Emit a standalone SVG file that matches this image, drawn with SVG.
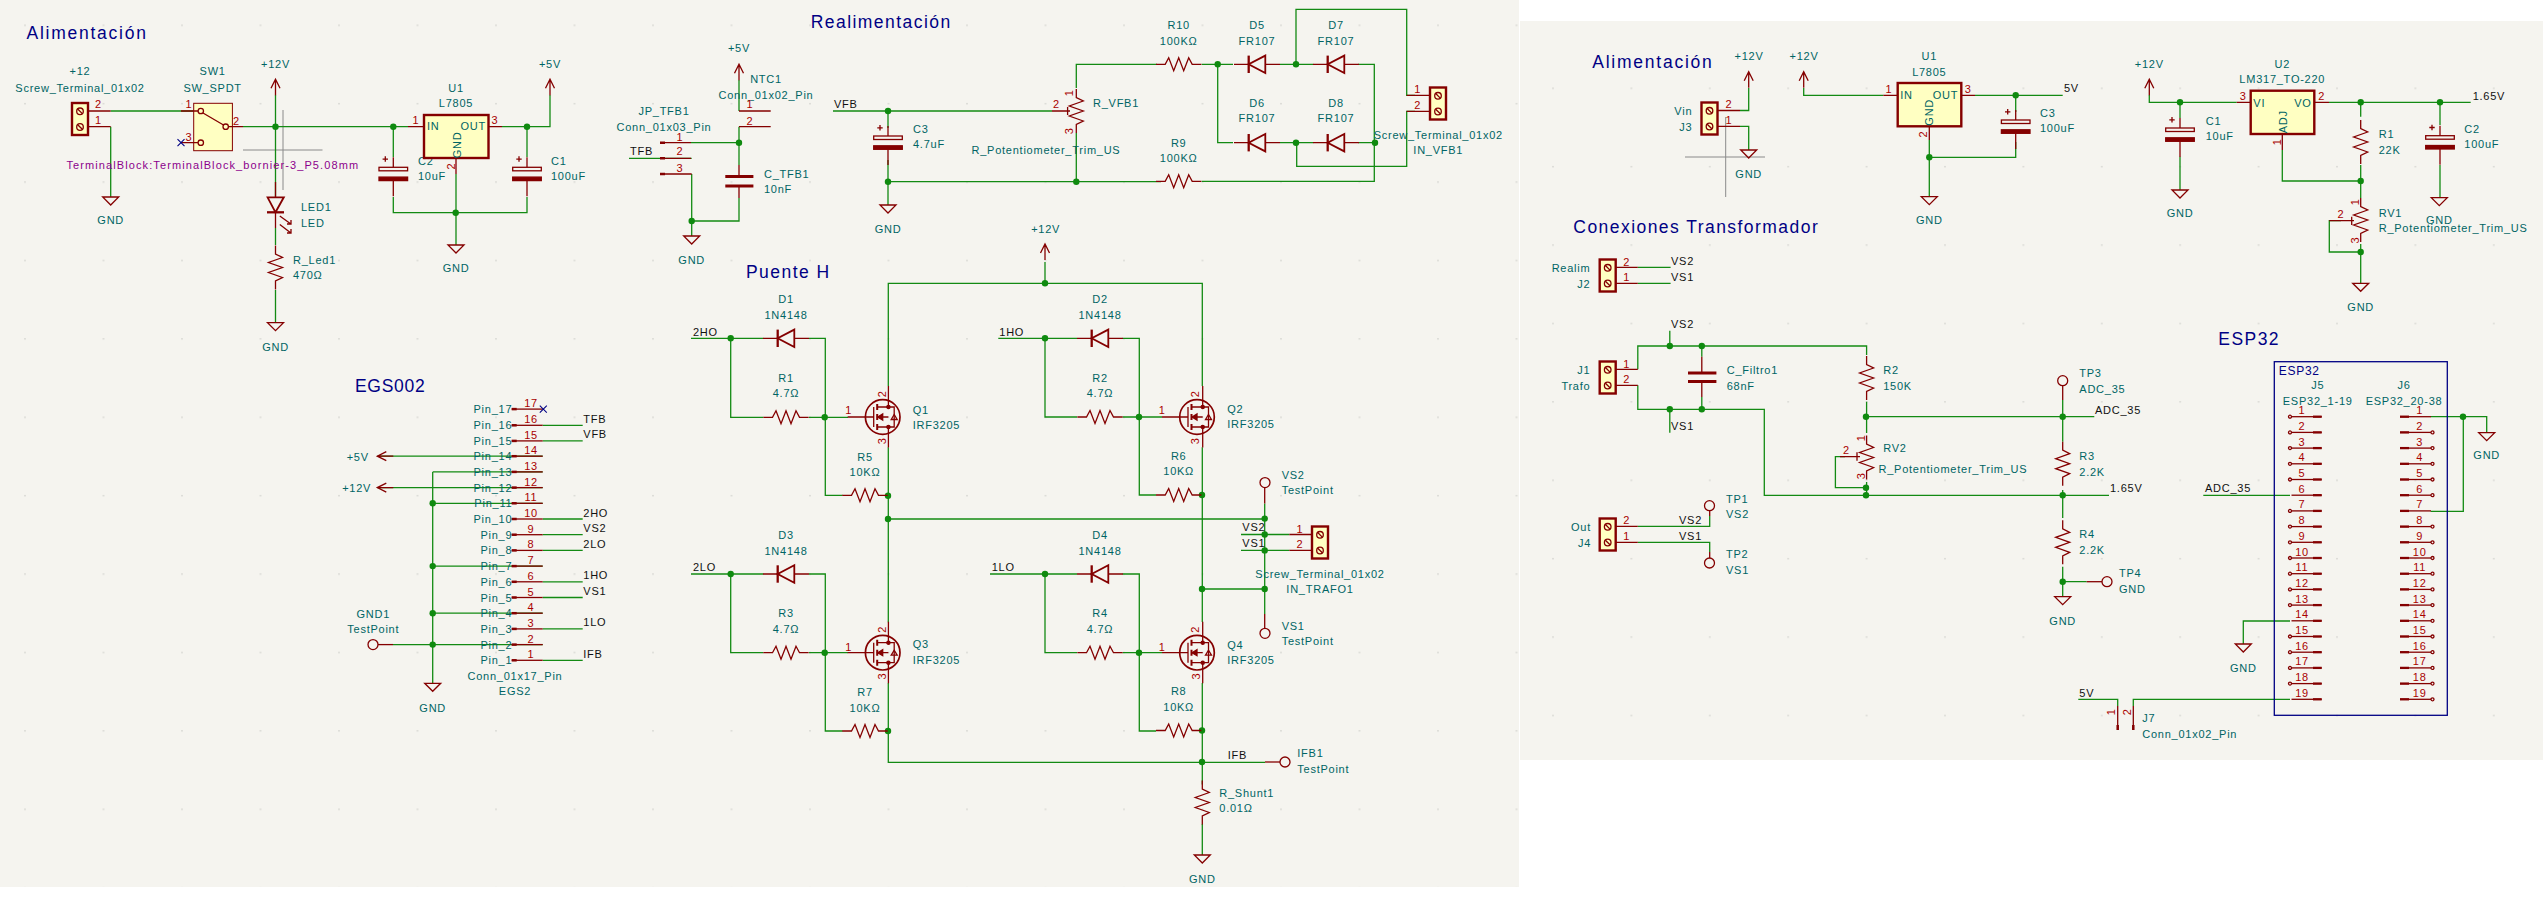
<svg xmlns="http://www.w3.org/2000/svg" width="2543" height="909" viewBox="0 0 2543 909">
<style>
text{font-family:"Liberation Sans",Arial,sans-serif;font-size:11px;letter-spacing:.75px}
.f{fill:#006464}.n{fill:#a90000}.l{fill:#111}.m{text-anchor:middle}.e{text-anchor:end}
.t{fill:#000084;font-size:17.5px;letter-spacing:1.45px}
.v{fill:#8c008c}
.b,.b *{fill:none;stroke:#840000;stroke-width:1.3}
.w{fill:none;stroke:#138a13;stroke-width:1.3}
.j{fill:#0f8a0f}
.u{fill:#ffffc2;stroke:#840000;stroke-width:2.4}
.s{fill:#ffffc2;stroke:#840000;stroke-width:1}
.c{fill:none;stroke:#8a8a8a;stroke-width:1}
.x{fill:none;stroke:#000084;stroke-width:1.1}
</style>
<defs>
<pattern id="g1" patternUnits="userSpaceOnUse" x="24" y="24.5" width="78.5" height="78.4"><rect width="2" height="1.5" fill="#dcdcd7"/></pattern>
<pattern id="g2" patternUnits="userSpaceOnUse" x="1552" y="87.5" width="78.4" height="78.4"><rect width="2" height="1.5" fill="#dcdcd7"/></pattern>
<path id="gnd" class="b" d="M-8 0H8L0 8Z"/>
<path id="pwr" class="b" d="M-4.5 9L0 0L4.500 9M0 0V16"/>
<path id="pwl" class="b" d="M9 -4.500L0 0L9 4.500M0 0H16"/>
<path id="rv" class="b" d="M0 -22V-13.500L7 -10L-7 -5L7 0L-7 5L7 10L0 13.500V22"/>
<path id="rh" class="b" d="M-22.700 0H-13.500L-10 -6.500L-5 6.500L0 -6.500L5 6.500L10 -6.500L13.500 0H22.700"/>
<g id="dio" class="b"><path d="M-23 0H-8.300M8.300 0H23"/><path d="M8.300 -8.700V8.700L-8.300 0Z" style="stroke-width:1.8"/><path d="M-8.300 -8.700V8.700" style="stroke-width:2.300"/></g>
<g id="cp" class="b"><path d="M0 -10V0M0 13.300V29M-8 -11V-5.500M-10.700 -8.200H-5.300"/><rect x="-14.300" y="0" width="28.600" height="3.500"/><rect x="-14.300" y="9.800" width="28.600" height="3.500" style="fill:#840000"/></g>
<g id="tb"><rect class="u" width="16" height="32"/><g class="b"><circle cx="8" cy="8.300" r="3.300"/><path d="M5.700 6L10.300 10.600"/><circle cx="8" cy="24" r="3.300"/><path d="M5.700 21.700L10.300 26.300"/></g></g>
<g id="q" class="b"><circle r="17.300" style="stroke-width:1.700"/><path d="M-35 0H-9M5.700 -31V-10M5.700 10V30.500M-9 -10V10" style="stroke-width:1.300"/><path d="M-5.500 -13V-7M-5.500 -3V3M-5.500 7V13" style="stroke-width:2"/><path d="M-5.500 -10H5.700M-5.500 10H5.700M-5.500 0H5.700M5.700 -10H11.500V10H5.700"/><path d="M-5 0L0 -3V3Z" style="fill:#840000"/><path d="M8.500 2.500H14.500L11.500 -2.500Z"/><circle cx="5.700" cy="-10" r="1.600" style="fill:#840000"/><circle cx="5.700" cy="10" r="1.600" style="fill:#840000"/></g>
<g id="pr" class="b"><path d="M0 0H31"/><path d="M0 0H5" style="stroke-width:2.500"/></g>
<g id="pc" class="b"><circle r="1.500"/><path d="M1.500 0H31.700"/><path d="M23 0H31.700" style="stroke-width:2.300"/></g>
<g id="pc0" class="b"><path d="M1.500 0H31.700"/><path d="M23 0H31.700" style="stroke-width:2.300"/></g>
<g id="pd" class="b"><circle cx="32.500" r="1.500"/><path d="M0 0H31"/><path d="M0 0H9" style="stroke-width:2.300"/></g>
<g id="pd0" class="b"><path d="M0 0H31"/><path d="M0 0H9" style="stroke-width:2.300"/></g>
</defs>
<rect width="2543" height="909" fill="#fff"/>
<rect width="1519" height="887" fill="#f5f4ef"/>
<rect x="1520" y="21" width="1023" height="739" fill="#f5f4ef"/>
<rect width="1519" height="887" fill="url(#g1)"/>
<rect x="1520" y="21" width="1023" height="739" fill="url(#g2)"/>

<g id="cursors"><path class="c" d="M283 110V190M243 150H322.500M1725.700 117V197M1685 157H1765"/></g>

<g id="connectors">
<path class="w" d="M110.700 111H193.700M110.700 126.700V197M243 126.700H408M275.500 95V197M275.500 228V245M275.500 290V322.700M393.300 126.700V157M393.300 197V212.700H527V197M527 126.700V157M502 126.700H550V95M456 174V245"/>
<path class="w" d="M739 80V111M739 126.700V165M739 198V221H691.700M691.700 174V236M691 142.700H739M629 158.300H691.700M833 111H1052M888 111V128M888 160V205M888 181.700H1161M1076.300 181.700V133M1076.300 88V64.300H1157M1201.700 64.300H1233M1217.700 64.300V142.700H1233M1280 64.300H1313.300M1280 142.700H1313.300M1358.300 64.300H1374.300V181.300H1201.700M1358.300 142.700H1375M1296 64.300V9.300H1406.700V95.300H1415M1415 111.300H1406.700V166.300H1296.700V142.700"/>
<path class="w" d="M377.300 456.200H542.700M377.300 487.600H542.700M432.700 471.900V683.300M432.700 471.900H542.700M432.700 503.300H542.700M432.700 566.100H542.700M432.700 613.200H542.700M393 644.600H542.700M542.700 425.300H582.700M542.700 440.900H582.700M542.700 519H582.700M542.700 534.700H582.700M542.700 550.400H582.700M542.700 581.800H582.700M542.700 597.500H582.700M542.700 628.900H582.700M542.700 660.300H582.700"/>
<path class="w" d="M1045 262V283.300M888.300 386V283.300H1202.300V386M888.300 447.300V622.300M888.300 683V762.300H1265M1202.300 447.300V622M1202.300 683V784.500M1202.300 824V855M888 519H1264.700M1202.300 589H1264.700M1264.700 503.500V614M1241 534.500H1289.300M1241 550.400H1289.300"/>
<path class="w" d="M691 338.300H763.300M809 338.300H825.300V495.300H842.700M730.700 338.300V417.300H763.300M809 417.300H848M888 495.300H887M998.300 338.300H1077M1122.700 338.300H1139.300V495H1156M1045 338.300V417H1077M1122.700 417H1162M691 574H763.300M809 574H825.300V731H842.700M730.700 574V652.700H763.300M809 652.700H848M990 574H1077M1122.700 574H1139.300V731H1156M1045 574V652.700H1077M1122.700 652.700H1162"/>
<path class="w" d="M1748.700 88V110.500H1740M1740 126.300H1748.700V150M1803.700 88V95.300H1883.300M1975 95.300H2062.700M2015.700 95.300V112M2015.700 142V157.300H1929.300M1929.300 140V196.700"/>
<path class="w" d="M2149.300 95V102.300H2236.700M2180 102.300V118M2180 156.700V190M2329 102.300H2470.700M2360.700 102.300V116.700M2360.700 165V198M2440 102.300V125M2440 165V197.700M2282.300 150V181H2360.700M2360.700 244V283.300M2341 220.700H2329.300V252H2360.700"/>
<path class="w" d="M1637.800 267.300H1670.600M1637.800 283.300H1670.600M1637.800 369.300V346H1866.600V355M1637.800 385.300V409.300H1764.300V495.300H2109M1669.800 346V330.700M1669.800 409.300V432.700M1701.800 346V356.700M1701.800 397V409.300M1866.600 401.700V433M1866.600 416.700H2094.300M2062.700 400V441.700M1866.600 482V495.300M1845 456.700H1835.400V487.700H1866.600M2062.700 490V518M2062.700 566.700V596.700M2062.700 581.700H2086.700"/>
<path class="w" d="M1637.800 526.300H1709.700V516M1637.800 542.300H1709.700V552"/>
<path class="w" d="M2430.700 416.700H2486.700V432.700M2463.300 416.700V511.300H2430.700M2203.300 495.300H2290M2243.300 644V621H2290M2133.300 706V699.300H2290M2078.300 699.300H2117.700V706"/>
<g class="j">
<circle cx="275.500" cy="126.700" r="3.200"/><circle cx="393.300" cy="126.700" r="3.200"/><circle cx="527" cy="126.700" r="3.200"/><circle cx="455.700" cy="212.700" r="3.200"/>
<circle cx="739" cy="142.700" r="3.200"/><circle cx="691.700" cy="221" r="3.200"/><circle cx="888" cy="111" r="3.200"/><circle cx="888" cy="181.700" r="3.200"/><circle cx="1076.300" cy="181.700" r="3.200"/>
<circle cx="1217.700" cy="64.300" r="3.200"/><circle cx="1296" cy="64.300" r="3.200"/><circle cx="1296" cy="142.700" r="3.200"/><circle cx="1375" cy="142.700" r="3.200"/>
<circle cx="432.700" cy="503.300" r="3.200"/><circle cx="432.700" cy="566.100" r="3.200"/><circle cx="432.700" cy="613.200" r="3.200"/><circle cx="432.700" cy="644.600" r="3.200"/>
<circle cx="1045" cy="283.300" r="3.200"/><circle cx="730.700" cy="338.300" r="3.200"/><circle cx="824.700" cy="417.300" r="3.200"/><circle cx="888" cy="495.700" r="3.200"/><circle cx="888" cy="519" r="3.200"/>
<circle cx="1045" cy="338.300" r="3.200"/><circle cx="1139" cy="417" r="3.200"/><circle cx="1202" cy="495" r="3.200"/><circle cx="730.700" cy="574" r="3.200"/><circle cx="824.700" cy="652.700" r="3.200"/><circle cx="888" cy="731" r="3.200"/>
<circle cx="1045" cy="574" r="3.200"/><circle cx="1139" cy="652.700" r="3.200"/><circle cx="1202" cy="730.500" r="3.200"/><circle cx="1202" cy="762" r="3.200"/><circle cx="1202" cy="589" r="3.200"/>
<circle cx="1264.700" cy="518.600" r="3.200"/><circle cx="1264.700" cy="534.500" r="3.200"/><circle cx="1264.700" cy="550.400" r="3.200"/><circle cx="1264.700" cy="589" r="3.200"/>
<circle cx="2015.700" cy="95.300" r="3.200"/><circle cx="1929.300" cy="157.300" r="3.200"/><circle cx="2180" cy="102.300" r="3.200"/><circle cx="2360.700" cy="102.300" r="3.200"/><circle cx="2440" cy="102.300" r="3.200"/><circle cx="2360.700" cy="181" r="3.200"/><circle cx="2360.700" cy="252" r="3.200"/>
<circle cx="1669.800" cy="346" r="3.200"/><circle cx="1701.800" cy="346" r="3.200"/><circle cx="1669.800" cy="409.300" r="3.200"/><circle cx="1701.800" cy="409.300" r="3.200"/><circle cx="1866" cy="416.700" r="3.200"/><circle cx="2062.700" cy="416.700" r="3.200"/><circle cx="1866" cy="487.700" r="3.200"/><circle cx="1866" cy="495.300" r="3.200"/><circle cx="2062.700" cy="495.300" r="3.200"/><circle cx="2062.700" cy="581.700" r="3.200"/><circle cx="2463" cy="416.700" r="3.200"/>
</g>
</g>

<g id="titles">
<text class="t" x="26.500" y="39" style="letter-spacing:1.75px">Alimentación</text>
<text class="t" x="810.700" y="28">Realimentación</text>
<text class="t" x="355" y="391.700" style="letter-spacing:.7px">EGS002</text>
<text class="t" x="746" y="277.700">Puente H</text>
<text class="t" x="1592.300" y="67.700" style="letter-spacing:1.75px">Alimentación</text>
<text class="t" x="1573.300" y="233">Conexiones Transformador</text>
<text class="t" x="2218.300" y="345">ESP32</text>
</g>

<g id="net-labels">
<text class="l" x="630" y="155.300">TFB</text><text class="l" x="834" y="108">VFB</text>
<text class="l" x="583.300" y="422.800">TFB</text><text class="l" x="583.300" y="438.400">VFB</text><text class="l" x="583.300" y="516.500">2HO</text><text class="l" x="583.300" y="532.200">VS2</text><text class="l" x="583.300" y="547.900">2LO</text><text class="l" x="583.300" y="579.300">1HO</text><text class="l" x="583.300" y="595">VS1</text><text class="l" x="583.300" y="626.400">1LO</text><text class="l" x="583.300" y="657.800">IFB</text>
<text class="l" x="693" y="335.700">2HO</text><text class="l" x="999.300" y="335.700">1HO</text><text class="l" x="693" y="571.300">2LO</text><text class="l" x="991.700" y="571.300">1LO</text>
<text class="l" x="1242.300" y="531.400">VS2</text><text class="l" x="1242.300" y="547.300">VS1</text><text class="l" x="1227.700" y="758.500">IFB</text>
<text class="l" x="2064" y="91.700">5V</text><text class="l" x="2472.700" y="100">1.65V</text>
<text class="l" x="1671" y="265">VS2</text><text class="l" x="1671" y="281">VS1</text><text class="l" x="1671" y="327.700">VS2</text><text class="l" x="1671" y="430">VS1</text>
<text class="l" x="2095" y="414">ADC_35</text><text class="l" x="2110" y="492">1.65V</text><text class="l" x="1679" y="524">VS2</text><text class="l" x="1679" y="540">VS1</text>
<text class="l" x="2205" y="492.300">ADC_35</text><text class="l" x="2079.300" y="696.700">5V</text>
</g>

<g id="conn-12">
<path class="b" d="M87 111H110.700M87 126.700H110.700"/><use href="#tb" x="72" y="103"/>
<text class="f m" x="80" y="75">+12</text><text class="f m" x="80" y="92">Screw_Terminal_01x02</text>
<text class="n" x="95" y="108">2</text><text class="n" x="95" y="124">1</text>
</g>
<g id="sw1">
<rect class="s" x="193.700" y="103.300" width="38.700" height="47.400"/>
<g class="b"><path d="M181 111H198M181 142.700H198M228.500 126.700H243M203 113L223.500 125"/><circle cx="200.800" cy="111" r="2.700"/><circle cx="225.700" cy="126.700" r="2.700"/><circle cx="200.800" cy="142.700" r="2.700"/></g>
<path class="x" d="M177.500 139.200L184.500 146.200M184.500 139.200L177.500 146.200"/>
<text class="f m" x="212.600" y="75">SW1</text><text class="f m" x="212.600" y="92">SW_SPDT</text>
<text class="n m" x="189" y="108">1</text><text class="n" x="233" y="124.500">2</text><text class="n m" x="189" y="140.600">3</text>
<text class="v" x="66.400" y="168.700" style="letter-spacing:1.1px">TerminalBlock:TerminalBlock_bornier-3_P5.08mm</text>
</g>
<g id="gnd-a1"><use href="#gnd" x="110.700" y="197"/><text class="f m" x="110.700" y="224">GND</text></g>
<g id="pwr-12a"><use href="#pwr" x="275.500" y="79.300"/><text class="f m" x="275.500" y="67.700">+12V</text></g>
<g id="led1">
<g class="b"><path d="M275.500 182V197M275.500 212V228"/><path d="M267.600 197.300H283.800L275.500 212.300Z" style="stroke-width:1.800"/><path d="M267 212.300H284" style="stroke-width:2.300"/><path d="M279.800 216L290.900 224M287 224H291V220M279.800 224.500L290.900 233M287 233H291V229"/></g>
<text class="f" x="301" y="211">LED1</text><text class="f" x="301" y="226.700">LED</text>
</g>
<g id="r-led1"><use href="#rv" x="275.500" y="267.500"/><text class="f" x="293" y="263.700">R_Led1</text><text class="f" x="293" y="279.300">470Ω</text></g>
<g id="gnd-a2"><use href="#gnd" x="275.500" y="322.700"/><text class="f m" x="275.500" y="350.700">GND</text></g>
<g id="c2-a"><use href="#cp" x="393.300" y="167.300"/><text class="f" x="418" y="165">C2</text><text class="f" x="418" y="180">10uF</text></g>
<g id="u1-a">
<rect class="u" x="424" y="115" width="64.500" height="43"/>
<path class="b" d="M408 126.700H424M488.500 126.700H502M456 158V174"/>
<text class="f" x="427" y="130">IN</text><text class="f e" x="486" y="130">OUT</text><text class="f m" x="456.500" y="149" transform="rotate(-90 456.500 145)">GND</text>
<text class="n m" x="416" y="124.300">1</text><text class="n m" x="495" y="124.300">3</text><text class="n m" x="450.600" y="170" transform="rotate(-90 450.600 166)">2</text>
<text class="f m" x="456" y="91.700">U1</text><text class="f m" x="456" y="107">L7805</text>
</g>
<g id="gnd-a3"><use href="#gnd" x="456" y="245"/><text class="f m" x="456" y="271.700">GND</text></g>
<g id="c1-a"><use href="#cp" x="527" y="167.300"/><text class="f" x="551" y="165">C1</text><text class="f" x="551" y="180">100uF</text></g>
<g id="pwr-5a"><use href="#pwr" x="550" y="79.300"/><text class="f m" x="550" y="67.700">+5V</text></g>

<g id="pwr-5b"><use href="#pwr" x="739" y="64.300"/><text class="f m" x="739" y="52">+5V</text></g>
<g id="ntc1">
<path class="b" d="M739 111H770.700M739 126.700H770.700"/>
<text class="f m" x="766" y="83.300">NTC1</text><text class="f m" x="766" y="99.300">Conn_01x02_Pin</text>
<text class="n m" x="750" y="108">1</text><text class="n m" x="750" y="124.700">2</text>
</g>
<g id="jp-tfb1">
<path class="b" d="M660 142.700H691M660 158.300H691M660 174H691.700"/><path class="b" style="stroke-width:2.500" d="M660 142.700H665M660 158.300H665M660 174H665"/>
<text class="f m" x="664" y="114.700">JP_TFB1</text><text class="f m" x="664" y="130.700">Conn_01x03_Pin</text>
<text class="n m" x="680" y="141">1</text><text class="n m" x="680" y="155">2</text><text class="n m" x="680" y="171.700">3</text>
</g>
<g id="c-tfb1">
<g class="b"><path d="M739 165V176M739 187V198"/><path d="M725.300 176.500H753.400M725.300 186H753.400" style="stroke-width:3"/></g>
<text class="f" x="764" y="177.700">C_TFB1</text><text class="f" x="764" y="193">10nF</text>
</g>
<g id="gnd-b1"><use href="#gnd" x="691.700" y="236"/><text class="f m" x="691.700" y="264">GND</text></g>
<g id="c3-b"><use href="#cp" x="888" y="136"/><text class="f" x="913" y="132.700">C3</text><text class="f" x="913" y="148.300">4.7uF</text></g>
<g id="gnd-b2"><use href="#gnd" x="888" y="205"/><text class="f m" x="888" y="232.700">GND</text></g>
<g id="r-vfb1">
<use href="#rv" x="1076.300" y="111"/><path class="b" d="M1052 111H1067.600M1067.600 107V115M1067.600 111H1070"/>
<text class="n m" x="1056.500" y="108">2</text><text class="n m" x="1069" y="96.700" transform="rotate(-90 1069 92.700)">1</text><text class="n m" x="1069" y="134.700" transform="rotate(-90 1069 130.700)">3</text>
<text class="f" x="1093" y="106.700">R_VFB1</text><text class="f m" x="1046" y="154.300">R_Potentiometer_Trim_US</text>
</g>
<g id="r10"><use href="#rh" x="1178.700" y="64.300"/><text class="f m" x="1178.700" y="28.700">R10</text><text class="f m" x="1178.700" y="44.700">100KΩ</text></g>
<g id="r9"><use href="#rh" x="1178.700" y="181.300"/><text class="f m" x="1178.700" y="146.700">R9</text><text class="f m" x="1178.700" y="162">100KΩ</text></g>
<g id="d5"><use href="#dio" x="1257" y="64.300"/><text class="f m" x="1257" y="28.700">D5</text><text class="f m" x="1257" y="44.700">FR107</text></g>
<g id="d7"><use href="#dio" x="1336" y="64.300"/><text class="f m" x="1336" y="28.700">D7</text><text class="f m" x="1336" y="44.700">FR107</text></g>
<g id="d6"><use href="#dio" x="1257" y="142.700"/><text class="f m" x="1257" y="106.700">D6</text><text class="f m" x="1257" y="122.300">FR107</text></g>
<g id="d8"><use href="#dio" x="1336" y="142.700"/><text class="f m" x="1336" y="106.700">D8</text><text class="f m" x="1336" y="122.300">FR107</text></g>
<g id="in-vfb1">
<path class="b" d="M1406.700 95.300H1429.300M1406.700 111.300H1429.300"/><use href="#tb" x="1430" y="87.500"/>
<text class="n m" x="1417.700" y="92.700">1</text><text class="n m" x="1417.700" y="108.700">2</text>
<text class="f m" x="1438.300" y="139">Screw_Terminal_01x02</text><text class="f m" x="1438.300" y="154.300">IN_VFB1</text>
</g>

<g id="egs2">
<use href="#pr" x="511.700" y="409.100"/><use href="#pr" x="511.700" y="425.300"/><use href="#pr" x="511.700" y="440.900"/><use href="#pr" x="511.700" y="456.200"/><use href="#pr" x="511.700" y="471.900"/><use href="#pr" x="511.700" y="487.600"/><use href="#pr" x="511.700" y="503.300"/><use href="#pr" x="511.700" y="519"/><use href="#pr" x="511.700" y="534.700"/><use href="#pr" x="511.700" y="550.400"/><use href="#pr" x="511.700" y="566.100"/><use href="#pr" x="511.700" y="581.800"/><use href="#pr" x="511.700" y="597.500"/><use href="#pr" x="511.700" y="613.200"/><use href="#pr" x="511.700" y="628.900"/><use href="#pr" x="511.700" y="644.600"/><use href="#pr" x="511.700" y="660.300"/>
<path class="x" d="M539.800 405.600L546.800 412.600M546.800 405.600L539.800 412.600"/>
<g class="f e">
<text x="512.300" y="413.100">Pin_17</text><text x="512.300" y="429.300">Pin_16</text><text x="512.300" y="444.900">Pin_15</text><text x="512.300" y="460.200">Pin_14</text><text x="512.300" y="475.900">Pin_13</text><text x="512.300" y="491.600">Pin_12</text><text x="512.300" y="507.300">Pin_11</text><text x="512.300" y="523">Pin_10</text><text x="512.300" y="538.700">Pin_9</text><text x="512.300" y="554.400">Pin_8</text><text x="512.300" y="570.100">Pin_7</text><text x="512.300" y="585.800">Pin_6</text><text x="512.300" y="601.500">Pin_5</text><text x="512.300" y="617.200">Pin_4</text><text x="512.300" y="632.900">Pin_3</text><text x="512.300" y="648.600">Pin_2</text><text x="512.300" y="664.300">Pin_1</text>
</g>
<g class="n m">
<text x="531" y="407.100">17</text><text x="531" y="423.300">16</text><text x="531" y="438.900">15</text><text x="531" y="454.200">14</text><text x="531" y="469.900">13</text><text x="531" y="485.600">12</text><text x="531" y="501.300">11</text><text x="531" y="517">10</text><text x="531" y="532.700">9</text><text x="531" y="548.400">8</text><text x="531" y="564.100">7</text><text x="531" y="579.800">6</text><text x="531" y="595.500">5</text><text x="531" y="611.200">4</text><text x="531" y="626.900">3</text><text x="531" y="642.600">2</text><text x="531" y="658.300">1</text>
</g>
<text class="f m" x="515" y="680">Conn_01x17_Pin</text><text class="f m" x="515" y="695.300">EGS2</text>
</g>
<g id="pwr-5c"><use href="#pwl" x="377.300" y="456.200"/><text class="f m" x="357.700" y="461">+5V</text></g>
<g id="pwr-12c"><use href="#pwl" x="377.300" y="487.600"/><text class="f m" x="356.700" y="492.300">+12V</text></g>
<g id="gnd1"><circle class="b" cx="373" cy="644.600" r="5"/><path class="b" d="M378 644.600H393"/><text class="f m" x="373.300" y="618">GND1</text><text class="f m" x="373.300" y="633.300">TestPoint</text></g>
<g id="gnd-c"><use href="#gnd" x="432.700" y="683.300"/><text class="f m" x="432.700" y="711.700">GND</text></g>

<g id="pwr-12d"><use href="#pwr" x="1045" y="244"/><text class="f m" x="1045.700" y="232.700">+12V</text></g>
<g id="d1"><use href="#dio" x="786" y="338.300"/><text class="f m" x="786" y="303.300">D1</text><text class="f m" x="786" y="319">1N4148</text></g>
<g id="r1"><use href="#rh" x="786" y="417.300"/><text class="f m" x="786" y="381.700">R1</text><text class="f m" x="786" y="397.300">4.7Ω</text></g>
<g id="q1"><use href="#q" x="882.700" y="417"/><text class="n m" x="848.700" y="414.300">1</text><text class="n m" x="881.700" y="397.700" transform="rotate(-90 881.700 393.700)">2</text><text class="n m" x="881.700" y="444.700" transform="rotate(-90 881.700 440.700)">3</text><text class="f" x="912.700" y="414">Q1</text><text class="f" x="912.700" y="429">IRF3205</text></g>
<g id="r5"><use href="#rh" x="865" y="495.300"/><text class="f m" x="865" y="460.700">R5</text><text class="f m" x="865" y="476">10KΩ</text></g>
<g id="d2"><use href="#dio" x="1100" y="338.300"/><text class="f m" x="1100" y="303.300">D2</text><text class="f m" x="1100" y="319">1N4148</text></g>
<g id="r2"><use href="#rh" x="1100" y="417"/><text class="f m" x="1100" y="381.700">R2</text><text class="f m" x="1100" y="397.300">4.7Ω</text></g>
<g id="q2"><use href="#q" x="1197" y="417"/><text class="n m" x="1162.300" y="414.300">1</text><text class="n m" x="1195.500" y="397.700" transform="rotate(-90 1195.500 393.700)">2</text><text class="n m" x="1195.500" y="444.700" transform="rotate(-90 1195.500 440.700)">3</text><text class="f" x="1227.300" y="413">Q2</text><text class="f" x="1227.300" y="428">IRF3205</text></g>
<g id="r6"><use href="#rh" x="1178.700" y="495"/><text class="f m" x="1178.700" y="460">R6</text><text class="f m" x="1178.700" y="475">10KΩ</text></g>
<g id="d3"><use href="#dio" x="786" y="574"/><text class="f m" x="786" y="539">D3</text><text class="f m" x="786" y="554.700">1N4148</text></g>
<g id="r3"><use href="#rh" x="786" y="652.700"/><text class="f m" x="786" y="617.300">R3</text><text class="f m" x="786" y="632.700">4.7Ω</text></g>
<g id="q3"><use href="#q" x="882.700" y="652.700"/><text class="n m" x="848.700" y="650.700">1</text><text class="n m" x="881.700" y="633.300" transform="rotate(-90 881.700 629.300)">2</text><text class="n m" x="881.700" y="680" transform="rotate(-90 881.700 676)">3</text><text class="f" x="912.700" y="648.300">Q3</text><text class="f" x="912.700" y="664">IRF3205</text></g>
<g id="r7"><use href="#rh" x="865" y="731"/><text class="f m" x="865" y="695.700">R7</text><text class="f m" x="865" y="711.700">10KΩ</text></g>
<g id="d4"><use href="#dio" x="1100" y="574"/><text class="f m" x="1100" y="539">D4</text><text class="f m" x="1100" y="554.700">1N4148</text></g>
<g id="r4"><use href="#rh" x="1100" y="652.700"/><text class="f m" x="1100" y="617.300">R4</text><text class="f m" x="1100" y="632.700">4.7Ω</text></g>
<g id="q4"><use href="#q" x="1197" y="652.700"/><text class="n m" x="1162.300" y="650.700">1</text><text class="n m" x="1195.500" y="633.300" transform="rotate(-90 1195.500 629.300)">2</text><text class="n m" x="1195.500" y="680" transform="rotate(-90 1195.500 676)">3</text><text class="f" x="1227.300" y="648.800">Q4</text><text class="f" x="1227.300" y="664.300">IRF3205</text></g>
<g id="r8"><use href="#rh" x="1178.700" y="730.500"/><text class="f m" x="1178.700" y="695">R8</text><text class="f m" x="1178.700" y="711">10KΩ</text></g>
<g id="tp-vs2"><circle class="b" cx="1265" cy="482.600" r="5"/><path class="b" d="M1264.700 487.600V503.500"/><text class="f" x="1281.700" y="479">VS2</text><text class="f" x="1281.700" y="493.800">TestPoint</text></g>
<g id="tp-vs1"><circle class="b" cx="1265" cy="633.300" r="5"/><path class="b" d="M1264.700 614V628.300"/><text class="f" x="1281.700" y="629.500">VS1</text><text class="f" x="1281.700" y="645">TestPoint</text></g>
<g id="in-trafo1">
<path class="b" d="M1289.300 534.500H1311.700M1289.300 550.400H1311.700"/><use href="#tb" x="1312" y="526.500"/>
<text class="n m" x="1300" y="532.500">1</text><text class="n m" x="1300" y="548">2</text>
<text class="f m" x="1320" y="577.500">Screw_Terminal_01x02</text><text class="f m" x="1320" y="593">IN_TRAFO1</text>
</g>
<g id="ifb1"><circle class="b" cx="1285" cy="762" r="5"/><path class="b" d="M1265 762H1280"/><text class="f" x="1297.300" y="757">IFB1</text><text class="f" x="1297.300" y="773">TestPoint</text></g>
<g id="r-shunt1"><use href="#rv" x="1202.300" y="802.500"/><text class="f" x="1219.300" y="797">R_Shunt1</text><text class="f" x="1219.300" y="812.400">0.01Ω</text></g>
<g id="gnd-h"><use href="#gnd" x="1202.300" y="855"/><text class="f m" x="1202.300" y="883">GND</text></g>

<g id="j3">
<path class="b" d="M1717.700 110.500H1740M1717.700 126.300H1740"/><use href="#tb" x="1701.500" y="102.500"/>
<text class="n m" x="1729" y="108.300">2</text><text class="n m" x="1729" y="124">1</text>
<text class="f e" x="1692.300" y="115">Vin</text><text class="f e" x="1692.300" y="130.700">J3</text>
</g>
<g id="pwr-12e"><use href="#pwr" x="1748.700" y="71.700"/><text class="f m" x="1749" y="60">+12V</text></g>
<g id="gnd-e"><use href="#gnd" x="1748.700" y="150"/><text class="f m" x="1748.700" y="177.700">GND</text></g>
<g id="pwr-12f"><use href="#pwr" x="1803.700" y="71.700"/><text class="f m" x="1804" y="60">+12V</text></g>
<g id="u1-b">
<rect class="u" x="1897.700" y="83" width="63.600" height="43.300"/>
<path class="b" d="M1883.300 95.300H1897.700M1961.300 95.300H1975M1929.300 126.300V140"/>
<text class="f" x="1900.300" y="99">IN</text><text class="f e" x="1958.300" y="99">OUT</text><text class="f m" x="1929" y="116.300" transform="rotate(-90 1929 112.300)">GND</text>
<text class="n m" x="1889" y="93.300">1</text><text class="n m" x="1968.300" y="93.300">3</text><text class="n m" x="1922.700" y="138" transform="rotate(-90 1922.700 134)">2</text>
<text class="f m" x="1929.300" y="60">U1</text><text class="f m" x="1929.300" y="76">L7805</text>
</g>
<g id="gnd-f"><use href="#gnd" x="1929.300" y="196.700"/><text class="f m" x="1929.300" y="224.300">GND</text></g>
<g id="c3-c"><use href="#cp" x="2015.700" y="120"/><text class="f" x="2040" y="116.700">C3</text><text class="f" x="2040" y="132.300">100uF</text></g>
<g id="pwr-12g"><use href="#pwr" x="2149.300" y="79.300"/><text class="f m" x="2149.300" y="67.700">+12V</text></g>
<g id="c1-c"><use href="#cp" x="2180" y="128"/><text class="f" x="2205.700" y="125">C1</text><text class="f" x="2205.700" y="140">10uF</text></g>
<g id="gnd-g"><use href="#gnd" x="2180" y="190"/><text class="f m" x="2180" y="216.700">GND</text></g>
<g id="u2">
<rect class="u" x="2250.700" y="90.700" width="63.600" height="43.300"/>
<path class="b" d="M2236.700 102.300H2250.700M2314.300 102.300H2329M2282.300 134V150"/>
<text class="f" x="2253.300" y="106.700">VI</text><text class="f e" x="2311.700" y="106.700">VO</text><text class="f m" x="2283" y="125.700" transform="rotate(-90 2283 121.700)">ADJ</text>
<text class="n m" x="2243.300" y="100">3</text><text class="n m" x="2321.700" y="100">2</text><text class="n m" x="2276.700" y="145.700" transform="rotate(-90 2276.700 141.700)">1</text>
<text class="f m" x="2282.300" y="67.700">U2</text><text class="f m" x="2282.300" y="83.300">LM317_TO-220</text>
</g>
<g id="r1-c"><use href="#rv" x="2360.700" y="142"/><text class="f" x="2378.700" y="138.300">R1</text><text class="f" x="2378.700" y="154">22K</text></g>
<g id="c2-c"><use href="#cp" x="2440" y="135.700"/><text class="f" x="2464.300" y="132.700">C2</text><text class="f" x="2464.300" y="148.300">100uF</text></g>
<g id="gnd-i"><use href="#gnd" x="2439.300" y="197.700"/><text class="f m" x="2439.300" y="224">GND</text></g>
<g id="rv1">
<use href="#rv" x="2360.700" y="220"/><path class="b" d="M2329.300 220.700H2351.700M2351.700 216.700V225M2351.700 220.700H2354"/>
<text class="n m" x="2341" y="218.300">2</text><text class="n m" x="2355" y="205.700" transform="rotate(-90 2355 201.700)">1</text><text class="n m" x="2355" y="244" transform="rotate(-90 2355 240)">3</text>
<text class="f" x="2378.700" y="216.700">RV1</text><text class="f" x="2378.700" y="232.300">R_Potentiometer_Trim_US</text>
</g>
<g id="gnd-j"><use href="#gnd" x="2360.700" y="283.300"/><text class="f m" x="2360.700" y="310.700">GND</text></g>

<g id="j2">
<path class="b" d="M1615.700 267.300H1637.800M1615.700 283.300H1637.800"/><use href="#tb" x="1599.700" y="259.500"/>
<text class="n m" x="1626.700" y="265.700">2</text><text class="n m" x="1626.700" y="281">1</text>
<text class="f e" x="1590.400" y="271.700">Realim</text><text class="f e" x="1590.400" y="287.700">J2</text>
</g>
<g id="j1">
<path class="b" d="M1615.700 369.300H1637.800M1615.700 385.300H1637.800"/><use href="#tb" x="1599.700" y="361.500"/>
<text class="n m" x="1626.700" y="367.700">1</text><text class="n m" x="1626.700" y="383.300">2</text>
<text class="f e" x="1590.400" y="374">J1</text><text class="f e" x="1590.400" y="390">Trafo</text>
</g>
<g id="c-filtro1">
<g class="b"><path d="M1701.800 356.700V372M1701.800 382V397"/><path d="M1688 373H1716.400M1688 381.500H1716.400" style="stroke-width:3.200"/></g>
<text class="f" x="1726.700" y="374">C_Filtro1</text><text class="f" x="1726.700" y="390">68nF</text>
</g>
<g id="r2-d"><use href="#rv" x="1866.600" y="378"/><text class="f" x="1883.200" y="374">R2</text><text class="f" x="1883.200" y="390">150K</text></g>
<g id="tp3"><circle class="b" cx="2062.700" cy="380.700" r="5"/><path class="b" d="M2062.700 385.700V400"/><text class="f" x="2079.300" y="376.700">TP3</text><text class="f" x="2079.300" y="392.700">ADC_35</text></g>
<g id="r3-d"><use href="#rv" x="2062.700" y="463.700"/><text class="f" x="2079.300" y="460">R3</text><text class="f" x="2079.300" y="475.700">2.2K</text></g>
<g id="rv2">
<use href="#rv" x="1866.600" y="457.500"/><path class="b" d="M1840 456.700H1857M1857 452.300V460.700M1857 456.700H1860"/>
<text class="n m" x="1846.500" y="454">2</text><text class="n m" x="1860.700" y="441.700" transform="rotate(-90 1860.700 437.700)">1</text><text class="n m" x="1860.700" y="479.700" transform="rotate(-90 1860.700 475.700)">3</text>
<text class="f" x="1883.200" y="451.700">RV2</text><text class="f" x="1878.500" y="472.700">R_Potentiometer_Trim_US</text>
</g>
<g id="r4-d"><use href="#rv" x="2062.700" y="542.300"/><text class="f" x="2079.300" y="538.300">R4</text><text class="f" x="2079.300" y="554">2.2K</text></g>
<g id="gnd-k"><use href="#gnd" x="2062.700" y="596.700"/><text class="f m" x="2062.700" y="625">GND</text></g>
<g id="tp4"><circle class="b" cx="2107" cy="581.700" r="5"/><path class="b" d="M2086.700 581.700H2102"/><text class="f" x="2119" y="577.300">TP4</text><text class="f" x="2119" y="593.300">GND</text></g>
<g id="j4">
<path class="b" d="M1615.700 526.300H1637.800M1615.700 542.300H1637.800"/><use href="#tb" x="1599.700" y="518.500"/>
<text class="n m" x="1626.700" y="524">2</text><text class="n m" x="1626.700" y="540">1</text>
<text class="f e" x="1591" y="531">Out</text><text class="f e" x="1591" y="546.700">J4</text>
</g>
<g id="tp1"><circle class="b" cx="1709.500" cy="505.700" r="5"/><path class="b" d="M1709.700 510.700V516"/><text class="f" x="1726" y="502.700">TP1</text><text class="f" x="1726" y="518.300">VS2</text></g>
<g id="tp2"><circle class="b" cx="1709.500" cy="563" r="5"/><path class="b" d="M1709.700 552V558"/><text class="f" x="1726" y="558.300">TP2</text><text class="f" x="1726" y="574.300">VS1</text></g>

<g id="esp32">
<rect x="2274.300" y="361.700" width="173" height="353.600" fill="none" stroke="#000084" stroke-width="1.300"/>
<text x="2278.700" y="374.700" style="fill:#000084;font-size:12px">ESP32</text>
</g>
<g id="j5">
<use href="#pc" x="2290" y="416.700"/><use href="#pc" x="2290" y="432.400"/><use href="#pc" x="2290" y="448.100"/><use href="#pc" x="2290" y="463.800"/><use href="#pc" x="2290" y="479.500"/><use href="#pc0" x="2290" y="495.200"/><use href="#pc" x="2290" y="510.900"/><use href="#pc" x="2290" y="526.600"/><use href="#pc" x="2290" y="542.300"/><use href="#pc" x="2290" y="558"/><use href="#pc" x="2290" y="573.700"/><use href="#pc" x="2290" y="589.400"/><use href="#pc" x="2290" y="605.100"/><use href="#pc0" x="2290" y="620.800"/><use href="#pc" x="2290" y="636.500"/><use href="#pc" x="2290" y="652.200"/><use href="#pc" x="2290" y="667.900"/><use href="#pc" x="2290" y="683.600"/><use href="#pc0" x="2290" y="699.300"/>
<g class="n m"><text x="2302" y="414.200">1</text><text x="2302" y="429.900">2</text><text x="2302" y="445.600">3</text><text x="2302" y="461.300">4</text><text x="2302" y="477">5</text><text x="2302" y="492.700">6</text><text x="2302" y="508.400">7</text><text x="2302" y="524.100">8</text><text x="2302" y="539.800">9</text><text x="2302" y="555.500">10</text><text x="2302" y="571.200">11</text><text x="2302" y="586.900">12</text><text x="2302" y="602.600">13</text><text x="2302" y="618.300">14</text><text x="2302" y="634">15</text><text x="2302" y="649.700">16</text><text x="2302" y="665.400">17</text><text x="2302" y="681.100">18</text><text x="2302" y="696.800">19</text></g>
<text class="f m" x="2317.700" y="389.300">J5</text><text class="f m" x="2317.700" y="405">ESP32_1-19</text>
</g>
<g id="j6">
<use href="#pd0" x="2400" y="416.700"/><use href="#pd" x="2400" y="432.400"/><use href="#pd" x="2400" y="448.100"/><use href="#pd" x="2400" y="463.800"/><use href="#pd" x="2400" y="479.500"/><use href="#pd" x="2400" y="495.200"/><use href="#pd0" x="2400" y="510.900"/><use href="#pd" x="2400" y="526.600"/><use href="#pd" x="2400" y="542.300"/><use href="#pd" x="2400" y="558"/><use href="#pd" x="2400" y="573.700"/><use href="#pd" x="2400" y="589.400"/><use href="#pd" x="2400" y="605.100"/><use href="#pd" x="2400" y="620.800"/><use href="#pd" x="2400" y="636.500"/><use href="#pd" x="2400" y="652.200"/><use href="#pd" x="2400" y="667.900"/><use href="#pd" x="2400" y="683.600"/><use href="#pd" x="2400" y="699.300"/>
<g class="n m"><text x="2419.700" y="414.200">1</text><text x="2419.700" y="429.900">2</text><text x="2419.700" y="445.600">3</text><text x="2419.700" y="461.300">4</text><text x="2419.700" y="477">5</text><text x="2419.700" y="492.700">6</text><text x="2419.700" y="508.400">7</text><text x="2419.700" y="524.100">8</text><text x="2419.700" y="539.800">9</text><text x="2419.700" y="555.500">10</text><text x="2419.700" y="571.200">11</text><text x="2419.700" y="586.900">12</text><text x="2419.700" y="602.600">13</text><text x="2419.700" y="618.300">14</text><text x="2419.700" y="634">15</text><text x="2419.700" y="649.700">16</text><text x="2419.700" y="665.400">17</text><text x="2419.700" y="681.100">18</text><text x="2419.700" y="696.800">19</text></g>
<text class="f m" x="2404" y="389.300">J6</text><text class="f m" x="2404" y="405">ESP32_20-38</text>
</g>
<g id="gnd-l"><use href="#gnd" x="2486.700" y="432.700"/><text class="f m" x="2486.700" y="459.300">GND</text></g>
<g id="gnd-m"><use href="#gnd" x="2243.300" y="644"/><text class="f m" x="2243.300" y="671.700">GND</text></g>
<g id="j7">
<path class="b" d="M2117.700 706V730M2133.300 706V730"/><path class="b" style="stroke-width:2.500" d="M2117.700 725V730M2133.300 725V730"/>
<text class="n m" x="2110.700" y="715.700" transform="rotate(-90 2110.700 711.700)">1</text><text class="n m" x="2126.700" y="715.700" transform="rotate(-90 2126.700 711.700)">2</text>
<text class="f" x="2142.300" y="722.300">J7</text><text class="f" x="2142.300" y="738.300">Conn_01x02_Pin</text>
</g>
</svg>
